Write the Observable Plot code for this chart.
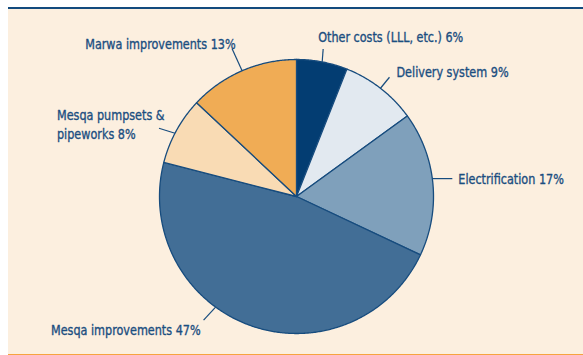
<!DOCTYPE html>
<html>
<head>
<meta charset="utf-8">
<script src="https://cdn.jsdelivr.net/npm/d3@7"></script>
<script src="https://cdn.jsdelivr.net/npm/@observablehq/plot@0.6"></script>
<style>
  html, body { margin: 0; padding: 0; background: #ffffff; }
  #wrap { position: relative; width: 583px; height: 355px; overflow: hidden; }
  #panel {
    position: absolute; left: 8px; top: 7px; width: 575px; height: 345px;
    background: #fcefdf;
    border-top: 2.5px solid #124b7e;
    border-bottom: 2px solid #f6a33e;
    box-sizing: content-box;
  }
  #chart { position: absolute; left: 0; top: 0; }
  #chart svg { background: transparent; }
</style>
</head>
<body>
<div id="wrap"><div id="panel"></div><div id="chart"></div></div>
<script>
// ---- data ----
const categories = ["Other costs (LLL, etc.)", "Delivery system", "Electrification", "Mesqa improvements", "Mesqa pumpsets & pipeworks", "Marwa improvements"];
const shares = [6, 9, 17, 47, 8, 13];
const labelTexts = ["Other costs (LLL, etc.) 6%", "Delivery system 9%", "Electrification 17%", "Mesqa improvements 47%", "Mesqa pumpsets &\npipeworks 8%", "Marwa improvements 13%"];
const colors = ["#033d72", "#e2e9f0", "#7fa0bb", "#426e96", "#f9dbb4", "#f0ac55"];

// ---- layout (annotation placement) ----
const W = 583, H = 355;
const cx = 296, cy = 196, R = 137;
// leader: start angle (deg, clockwise from top), leader vector, label offset from leader end, anchor
const leaders = [
  {angle: 10.8, ldx: 1, ldy: -13, dx: -5, dy: -13, anchor: "start"},
  {angle: 37.8, ldx: 9, ldy: -11, dx: 7, dy: -6, anchor: "start"},
  {angle: 82.5, ldx: 20, ldy: 0, dx: 6, dy: -1, anchor: "start"},
  {angle: 216.2, ldx: -12, ldy: 13, dx: -3, dy: 9, anchor: "end"},
  {angle: 297.5, ldx: -16, ldy: -5, dx: -102, dy: -5, anchor: "start"},
  {angle: 336.6, ldx: -10, ldy: -22, dx: 3.5, dy: -6, anchor: "end"}
];

const total = d3.sum(shares);
const rad = d => d * Math.PI / 180;
const polar = (deg, r) => [cx + r * Math.sin(rad(deg)), cy - r * Math.cos(rad(deg))];

// slice polygons
const slicePts = [];
let acc = 0;
categories.forEach((c, i) => {
  const a0 = acc / total * 360;
  acc += shares[i];
  const a1 = acc / total * 360;
  slicePts.push({cat: c, x: cx, y: cy});
  for (let a = a0; a < a1; a += 0.5) {
    const [x, y] = polar(a, R);
    slicePts.push({cat: c, x, y});
  }
  const [x, y] = polar(a1, R);
  slicePts.push({cat: c, x, y});
});

const leaderData = categories.map((c, i) => {
  const L = leaders[i];
  const [x1, y1] = polar(L.angle, R);
  const x2 = x1 + L.ldx, y2 = y1 + L.ldy;
  return {cat: c, text: labelTexts[i], x1, y1, x2, y2, lx: x2 + L.dx, ly: y2 + L.dy, anchor: L.anchor};
});

const textColor = "#1b4e80";
const font = "'DejaVu Sans Condensed', 'Liberation Sans Narrow', sans-serif";

const plot = Plot.plot({
  width: W, height: H,
  margin: 0,
  x: {domain: [0, W], range: [0, W], axis: null},
  y: {domain: [0, H], range: [0, H], axis: null},
  color: {domain: categories, range: colors},
  style: {background: "transparent", fontFamily: font},
  marks: [
    Plot.line(slicePts, {x: "x", y: "y", z: "cat", fill: "cat", stroke: "#174c7e", strokeWidth: 1.3, strokeLinejoin: "round", curve: "linear-closed"}),
    Plot.link(leaderData, {x1: "x1", y1: "y1", x2: "x2", y2: "y2", stroke: "#174c7e", strokeWidth: 1.2}),
    Plot.text(leaderData.filter(d => d.anchor === "start"), {x: "lx", y: "ly", text: "text", textAnchor: "start", fill: textColor, stroke: textColor, strokeWidth: 0.35, fontSize: 14.5, lineHeight: 1.3}),
    Plot.text(leaderData.filter(d => d.anchor === "end"), {x: "lx", y: "ly", text: "text", textAnchor: "end", fill: textColor, stroke: textColor, strokeWidth: 0.35, fontSize: 14.5, lineHeight: 1.3})
  ]
});
document.getElementById("chart").appendChild(plot);

// condense the glyphs horizontally (the reference uses a condensed face)
const squeeze = 0.86;
plot.querySelectorAll("text").forEach(t => {
  const spans = t.querySelectorAll("tspan");
  const items = spans.length ? spans : [t];
  items.forEach(el => {
    const len = el.getComputedTextLength();
    if (len > 0) {
      el.setAttribute("textLength", (len * squeeze).toFixed(1));
      el.setAttribute("lengthAdjust", "spacingAndGlyphs");
    }
  });
});
</script>
</body>
</html>
